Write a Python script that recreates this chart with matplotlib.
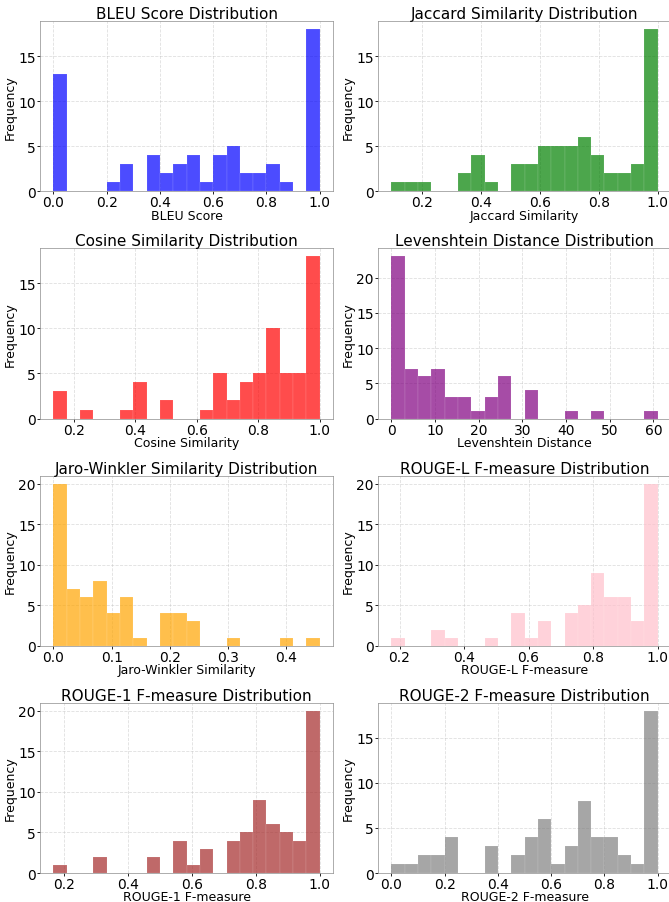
import numpy as np
import matplotlib
matplotlib.use("Agg")
import matplotlib.pyplot as plt

# counts per bin (20 bins each)
titles = ["BLEU Score", "Jaccard Similarity", "Cosine Similarity", "Levenshtein Distance",
          "Jaro-Winkler Similarity", "ROUGE-L F-measure", "ROUGE-1 F-measure", "ROUGE-2 F-measure"]
colors = ["blue", "green", "red", "purple", "orange", "pink", "brown", "gray"]

# (min, max) of each metric
ranges = [(0.0, 1.0), (0.095, 1.0), (0.133, 1.0), (0.0, 61.0),
          (0.0, 0.457), (0.175, 1.0), (0.167, 1.0), (0.0, 1.0)]

bleu = [13, 0, 0, 0, 1, 3, 0, 4, 2, 3, 4, 1, 4, 5, 2, 2, 3, 1, 0, 18]
jaccard = [1, 1, 1, 0, 0, 2, 4, 1, 0, 3, 3, 5, 5, 5, 6, 4, 2, 2, 3, 18]
cosine = [3, 0, 1, 0, 0, 1, 4, 0, 2, 0, 0, 1, 5, 2, 4, 5, 10, 5, 5, 18]
levenshtein = [23, 7, 6, 7, 3, 3, 1, 3, 6, 0, 4, 0, 0, 1, 0, 1, 0, 0, 0, 1]
jaro = [20, 7, 6, 8, 4, 6, 1, 0, 4, 4, 3, 0, 0, 1, 0, 0, 0, 1, 0, 1]
rouge_l = [1, 0, 0, 2, 1, 0, 0, 1, 0, 4, 1, 3, 0, 4, 5, 9, 6, 6, 3, 20]
rouge_1 = [1, 0, 0, 2, 0, 0, 0, 2, 0, 4, 1, 3, 0, 4, 5, 9, 6, 5, 4, 20]
rouge_2 = [1, 1, 2, 2, 4, 0, 0, 3, 0, 2, 4, 6, 1, 3, 8, 4, 4, 2, 1, 18]

counts = [bleu, jaccard, cosine, levenshtein, jaro, rouge_l, rouge_1, rouge_2]

fig, axes = plt.subplots(4, 2, figsize=(6.69, 9.03), dpi=100)
fig.subplots_adjust(left=0.06, right=1.003, top=0.9756, bottom=0.0321,
                    hspace=0.335, wspace=0.154)

for ax, name, col, (lo, hi), c in zip(axes.flat, titles, colors, ranges, counts):
    edges = np.linspace(lo, hi, 21)
    ax.hist(edges[:-1], bins=edges, weights=c, color=col, alpha=0.7,
            edgecolor="white", linewidth=0.1)
    ax.set_title(name + " Distribution", fontsize=11, pad=1.5)
    ax.set_xlabel(name, fontsize=9, labelpad=-0.5)
    ax.set_ylabel("Frequency", fontsize=9, labelpad=1)
    ax.tick_params(labelsize=10, length=2.5, width=0.6, pad=0.5)
    ax.grid(True, linestyle="--", color="0.75", linewidth=0.6, alpha=0.5)
    ax.set_axisbelow(True)
    for s in ax.spines.values():
        s.set_color("0.55")
        s.set_linewidth(0.5)

plt.savefig("out.png", dpi=100)
